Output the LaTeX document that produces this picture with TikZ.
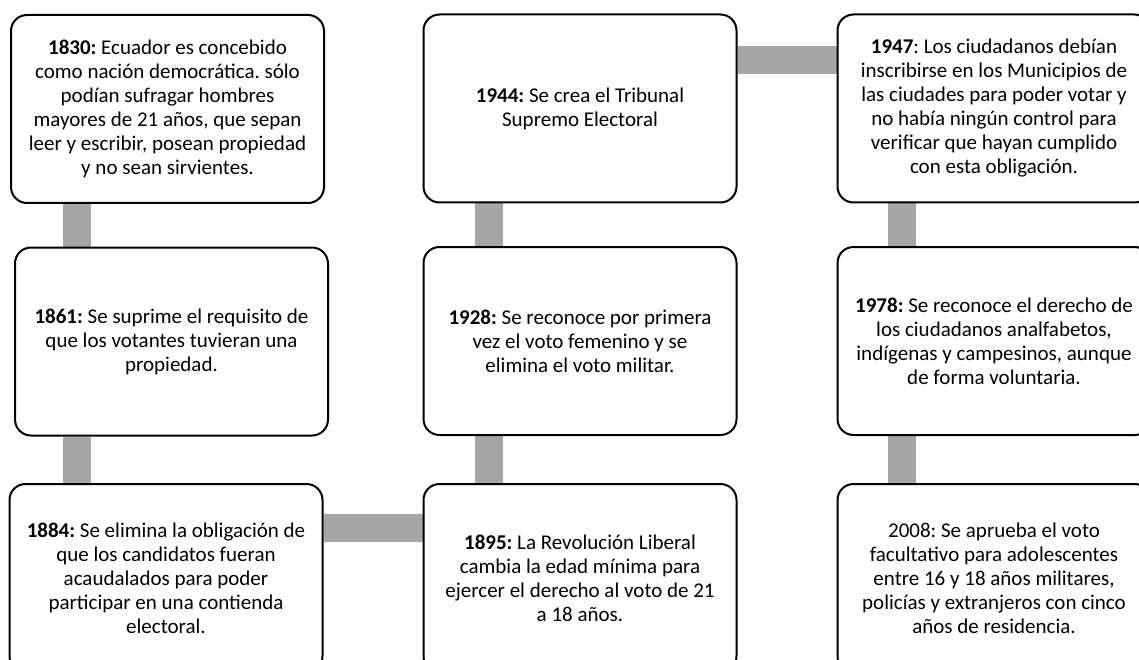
\documentclass[tikz,border=0pt]{standalone}
\usepackage{fontspec}
\setmainfont{Carlito}
\usetikzlibrary{backgrounds}
\definecolor{bargray}{RGB}{166,166,166}
\frenchspacing
\tikzset{
  evbox/.style={draw=black, line width=2pt, rounded corners=16pt, fill=white,
    minimum width=313pt, minimum height=188pt, inner sep=0pt, align=center,
    font=\fontsize{21}{24}\selectfont\frenchspacing},
  bar/.style={draw=bargray, line width=28pt}
}
\begin{document}
\begin{tikzpicture}[x=1pt,y=-1pt]
\useasboundingbox (0,0) rectangle (1139,660);
\clip (0,0) rectangle (1139,660);
\node[evbox] (n1830) at (167.5,109) {\textbf{1830:} Ecuador es concebido\\ como nación democrática. sólo\\ podían sufragar hombres\\ mayores de 21 años, que sepan\\ leer y escribir, posean propiedad\\ y no sean sirvientes.};
\node[evbox] (n1861) at (171.5,341.5) {\textbf{1861:} Se suprime el requisito de\\ que los votantes tuvieran una\\ propiedad.};
\node[evbox] (n1884) at (166,578) {\textbf{1884:} Se elimina la obligación de\\ que los candidatos fueran\\ acaudalados para poder\\ participar en una contienda\\ electoral.};
\node[evbox] (n1944) at (580,108.5) {\textbf{1944:} Se crea el Tribunal\\ Supremo Electoral};
\node[evbox] (n1928) at (580,341) {\textbf{1928:} Se reconoce por primera\\ vez el voto femenino y se\\ elimina el voto militar.};
\node[evbox] (n1895) at (580,578) {\textbf{1895:} La Revolución Liberal\\ cambia la edad mínima para\\ ejercer el derecho al voto de 21\\ a 18 años.};
\node[evbox] (n1947) at (994,108.5) {\textbf{1947}: Los ciudadanos debían\\ inscribirse en los Municipios de\\ las ciudades para poder votar y\\ no había ningún control para\\ verificar que hayan cumplido\\ con esta obligación.};
\node[evbox] (n1978) at (994,341) {\textbf{1978:} Se reconoce el derecho de\\ los ciudadanos analfabetos,\\ indígenas y campesinos, aunque\\ de forma voluntaria.};
\node[evbox] (n2008) at (994,578) {2008: Se aprueba el voto\\ facultativo para adolescentes\\ entre 16 y 18 años militares,\\ policías y extranjeros con cinco\\ años de residencia.};
\begin{pgfonlayer}{background}
\draw[bar] ([xshift=-91pt]n1830.south) -- ([xshift=-95pt]n1861.north);
\draw[bar] ([xshift=-95pt]n1861.south) -- ([xshift=-89.5pt]n1884.north);
\draw[bar] ([yshift=50pt]n1884.east) -- ([yshift=50pt]n1895.west);
\draw[bar] ([xshift=-91.5pt]n1895.north) -- ([xshift=-91.5pt]n1928.south);
\draw[bar] ([xshift=-91.5pt]n1928.north) -- ([xshift=-91.5pt]n1944.south);
\draw[bar] ([yshift=48pt]n1944.east) -- ([yshift=48pt]n1947.west);
\draw[bar] ([xshift=-92pt]n1947.south) -- ([xshift=-92pt]n1978.north);
\draw[bar] ([xshift=-92pt]n1978.south) -- ([xshift=-92pt]n2008.north);
\end{pgfonlayer}
\end{tikzpicture}
\end{document}
